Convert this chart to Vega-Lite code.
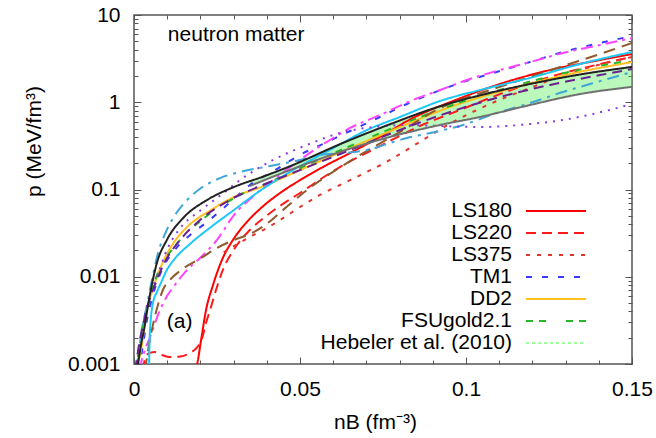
{
  "$schema": "https://vega.github.io/schema/vega-lite/v6.json",
  "width": 498,
  "height": 349,
  "autosize": {"type": "none"},
  "padding": {"left": 134, "top": 15, "right": 24, "bottom": 74},
  "background": "white",
  "config": {
    "font": "Liberation Sans",
    "view": {"stroke": "#555555", "strokeWidth": 1.5},
    "axis": {"grid": false, "domain": false, "tickColor": "#555555", "tickWidth": 1, "labelColor": "#000000", "titleColor": "#000000", "labelFont": "Liberation Sans", "titleFont": "Liberation Sans", "labelFontSize": 21, "titleFontSize": 21, "titleFontWeight": "normal", "labelOverlap": false, "labelFlush": false}
  },
  "datasets": {
    "curves": [
      {"s":"LS180","x":0.0187,"p":0.00092},{"s":"LS180","x":0.019,"p":0.001},{"s":"LS180","x":0.0202,"p":0.00188},{"s":"LS180","x":0.0217,"p":0.00416},{"s":"LS180","x":0.0238,"p":0.00804},{"s":"LS180","x":0.0265,"p":0.0156},{"s":"LS180","x":0.0298,"p":0.0264},{"s":"LS180","x":0.034,"p":0.0424},{"s":"LS180","x":0.0386,"p":0.063},{"s":"LS180","x":0.044,"p":0.0912},{"s":"LS180","x":0.05,"p":0.128},{"s":"LS180","x":0.0575,"p":0.186},{"s":"LS180","x":0.0651,"p":0.262},{"s":"LS180","x":0.0741,"p":0.4},{"s":"LS180","x":0.084,"p":0.66},{"s":"LS180","x":0.0961,"p":1.034},{"s":"LS180","x":0.1102,"p":1.62},{"s":"LS180","x":0.1253,"p":2.34},{"s":"LS180","x":0.1404,"p":3.05},{"s":"LS180","x":0.15,"p":3.57},

      {"s":"LS220","x":0.0027,"p":0.00085},{"s":"LS220","x":0.0036,"p":0.00124},{"s":"LS220","x":0.0048,"p":0.00134},{"s":"LS220","x":0.0063,"p":0.00137},{"s":"LS220","x":0.0084,"p":0.00127},{"s":"LS220","x":0.0108,"p":0.0012},{"s":"LS220","x":0.0139,"p":0.00122},{"s":"LS220","x":0.0169,"p":0.00134},{"s":"LS220","x":0.019,"p":0.00155},{"s":"LS220","x":0.0205,"p":0.00196},{"s":"LS220","x":0.0217,"p":0.00295},{"s":"LS220","x":0.0232,"p":0.0045},{"s":"LS220","x":0.0247,"p":0.00705},{"s":"LS220","x":0.0265,"p":0.0113},{"s":"LS220","x":0.0304,"p":0.0214},{"s":"LS220","x":0.0349,"p":0.0343},{"s":"LS220","x":0.041,"p":0.0538},{"s":"LS220","x":0.05,"p":0.0912},{"s":"LS220","x":0.062,"p":0.181},{"s":"LS220","x":0.0741,"p":0.315},{"s":"LS220","x":0.0861,"p":0.534},{"s":"LS220","x":0.0982,"p":0.815},{"s":"LS220","x":0.1102,"p":1.24},{"s":"LS220","x":0.1253,"p":1.95},{"s":"LS220","x":0.1404,"p":2.74},{"s":"LS220","x":0.15,"p":3.3},

      {"s":"LS375","x":0.027,"p":0.019},{"s":"LS375","x":0.031,"p":0.0235},{"s":"LS375","x":0.0355,"p":0.0295},{"s":"LS375","x":0.04,"p":0.0362},{"s":"LS375","x":0.044,"p":0.0447},{"s":"LS375","x":0.05,"p":0.063},{"s":"LS375","x":0.056,"p":0.0865},{"s":"LS375","x":0.0651,"p":0.128},{"s":"LS375","x":0.0771,"p":0.218},{"s":"LS375","x":0.087,"p":0.369},{"s":"LS375","x":0.0961,"p":0.594},{"s":"LS375","x":0.1072,"p":0.955},{"s":"LS375","x":0.1193,"p":1.46},{"s":"LS375","x":0.1313,"p":2.16},{"s":"LS375","x":0.1434,"p":2.89},{"s":"LS375","x":0.15,"p":3.3},

      {"s":"TM1","x":0.0015,"p":0.00085},{"s":"TM1","x":0.0018,"p":0.001},{"s":"TM1","x":0.0027,"p":0.00165},{"s":"TM1","x":0.0039,"p":0.00319},{"s":"TM1","x":0.0057,"p":0.00618},{"s":"TM1","x":0.0084,"p":0.01196},{"s":"TM1","x":0.0123,"p":0.0203},{"s":"TM1","x":0.0169,"p":0.0301},{"s":"TM1","x":0.022,"p":0.0424},{"s":"TM1","x":0.028,"p":0.0664},{"s":"TM1","x":0.0349,"p":0.1126},{"s":"TM1","x":0.0425,"p":0.167},{"s":"TM1","x":0.05,"p":0.249},{"s":"TM1","x":0.0575,"p":0.341},{"s":"TM1","x":0.0651,"p":0.468},{"s":"TM1","x":0.0741,"p":0.678},{"s":"TM1","x":0.0822,"p":0.955},{"s":"TM1","x":0.0892,"p":1.24},{"s":"TM1","x":0.0982,"p":1.66},{"s":"TM1","x":0.1102,"p":2.28},{"s":"TM1","x":0.1193,"p":2.89},{"s":"TM1","x":0.1292,"p":3.77},{"s":"TM1","x":0.1404,"p":4.78},{"s":"TM1","x":0.15,"p":5.74},

      {"s":"DD2","x":0.0009,"p":0.00085},{"s":"DD2","x":0.0012,"p":0.001},{"s":"DD2","x":0.0021,"p":0.00145},{"s":"DD2","x":0.003,"p":0.00245},{"s":"DD2","x":0.0039,"p":0.00416},{"s":"DD2","x":0.0054,"p":0.00669},{"s":"DD2","x":0.0069,"p":0.00994},{"s":"DD2","x":0.009,"p":0.0156},{"s":"DD2","x":0.0111,"p":0.0219},{"s":"DD2","x":0.016,"p":0.0372},{"s":"DD2","x":0.0232,"p":0.0582},{"s":"DD2","x":0.0301,"p":0.082},{"s":"DD2","x":0.0383,"p":0.1068},{"s":"DD2","x":0.05,"p":0.167},{"s":"DD2","x":0.0651,"p":0.299},{"s":"DD2","x":0.0801,"p":0.52},{"s":"DD2","x":0.0952,"p":0.882},{"s":"DD2","x":0.1142,"p":1.46},{"s":"DD2","x":0.1313,"p":2.11},{"s":"DD2","x":0.15,"p":2.89},

      {"s":"FSUgold2.1","x":0.0006,"p":0.00085},{"s":"FSUgold2.1","x":0.0009,"p":0.001},{"s":"FSUgold2.1","x":0.0018,"p":0.00188},{"s":"FSUgold2.1","x":0.0033,"p":0.00364},{"s":"FSUgold2.1","x":0.0054,"p":0.00705},{"s":"FSUgold2.1","x":0.0078,"p":0.0126},{"s":"FSUgold2.1","x":0.0114,"p":0.0203},{"s":"FSUgold2.1","x":0.0169,"p":0.0343},{"s":"FSUgold2.1","x":0.0244,"p":0.0582},{"s":"FSUgold2.1","x":0.0331,"p":0.0912},{"s":"FSUgold2.1","x":0.041,"p":0.122},{"s":"FSUgold2.1","x":0.05,"p":0.176},{"s":"FSUgold2.1","x":0.0651,"p":0.315},{"s":"FSUgold2.1","x":0.0801,"p":0.549},{"s":"FSUgold2.1","x":0.0952,"p":0.906},{"s":"FSUgold2.1","x":0.1102,"p":1.38},{"s":"FSUgold2.1","x":0.1283,"p":2.11},{"s":"FSUgold2.1","x":0.15,"p":3.05},

      {"s":"EOS-a","x":0.0018,"p":0.00085},{"s":"EOS-a","x":0.0021,"p":0.001},{"s":"EOS-a","x":0.0033,"p":0.00145},{"s":"EOS-a","x":0.0051,"p":0.00215},{"s":"EOS-a","x":0.0072,"p":0.00364},{"s":"EOS-a","x":0.0096,"p":0.00571},{"s":"EOS-a","x":0.0123,"p":0.00804},{"s":"EOS-a","x":0.0154,"p":0.0113},{"s":"EOS-a","x":0.0199,"p":0.0164},{"s":"EOS-a","x":0.025,"p":0.0264},{"s":"EOS-a","x":0.0301,"p":0.051},{"s":"EOS-a","x":0.0364,"p":0.0865},{"s":"EOS-a","x":0.044,"p":0.147},{"s":"EOS-a","x":0.0521,"p":0.249},{"s":"EOS-a","x":0.059,"p":0.369},{"s":"EOS-a","x":0.0651,"p":0.507},{"s":"EOS-a","x":0.0741,"p":0.714},{"s":"EOS-a","x":0.084,"p":1.061},{"s":"EOS-a","x":0.0922,"p":1.38},{"s":"EOS-a","x":0.1003,"p":1.8},{"s":"EOS-a","x":0.1102,"p":2.34},{"s":"EOS-a","x":0.1193,"p":2.89},{"s":"EOS-a","x":0.1292,"p":3.67},{"s":"EOS-a","x":0.1404,"p":4.53},{"s":"EOS-a","x":0.15,"p":5.45},

      {"s":"EOS-b","x":0.0033,"p":0.00085},{"s":"EOS-b","x":0.0036,"p":0.001},{"s":"EOS-b","x":0.0045,"p":0.00165},{"s":"EOS-b","x":0.0057,"p":0.0028},{"s":"EOS-b","x":0.0072,"p":0.00475},{"s":"EOS-b","x":0.0087,"p":0.00705},{"s":"EOS-b","x":0.0108,"p":0.00918},{"s":"EOS-b","x":0.0142,"p":0.01196},{"s":"EOS-b","x":0.0202,"p":0.0164},{"s":"EOS-b","x":0.025,"p":0.0214},{"s":"EOS-b","x":0.0301,"p":0.0264},{"s":"EOS-b","x":0.0349,"p":0.0309},{"s":"EOS-b","x":0.0395,"p":0.0392},{"s":"EOS-b","x":0.0449,"p":0.0582},{"s":"EOS-b","x":0.0521,"p":0.0987},{"s":"EOS-b","x":0.0599,"p":0.159},{"s":"EOS-b","x":0.0681,"p":0.249},{"s":"EOS-b","x":0.0801,"p":0.456},{"s":"EOS-b","x":0.0922,"p":0.859},{"s":"EOS-b","x":0.1072,"p":1.38},{"s":"EOS-b","x":0.1193,"p":1.95},{"s":"EOS-b","x":0.1292,"p":2.6},{"s":"EOS-b","x":0.1404,"p":3.57},{"s":"EOS-b","x":0.15,"p":4.78},

      {"s":"EOS-c","x":0.0045,"p":0.00085},{"s":"EOS-c","x":0.00455,"p":0.001},{"s":"EOS-c","x":0.0047,"p":0.00188},{"s":"EOS-c","x":0.0051,"p":0.00337},{"s":"EOS-c","x":0.0057,"p":0.005},{"s":"EOS-c","x":0.0069,"p":0.00669},{"s":"EOS-c","x":0.0081,"p":0.00848},{"s":"EOS-c","x":0.0099,"p":0.01196},{"s":"EOS-c","x":0.012,"p":0.0156},{"s":"EOS-c","x":0.0172,"p":0.0244},{"s":"EOS-c","x":0.0232,"p":0.0372},{"s":"EOS-c","x":0.0301,"p":0.0582},{"s":"EOS-c","x":0.037,"p":0.0912},{"s":"EOS-c","x":0.047,"p":0.159},{"s":"EOS-c","x":0.059,"p":0.284},{"s":"EOS-c","x":0.0702,"p":0.481},{"s":"EOS-c","x":0.0801,"p":0.678},{"s":"EOS-c","x":0.0922,"p":1.034},{"s":"EOS-c","x":0.1042,"p":1.38},{"s":"EOS-c","x":0.1193,"p":1.9},{"s":"EOS-c","x":0.1343,"p":2.74},{"s":"EOS-c","x":0.15,"p":3.77},

      {"s":"EOS-d","x":0.0006,"p":0.00085},{"s":"EOS-d","x":0.0009,"p":0.001},{"s":"EOS-d","x":0.0015,"p":0.00145},{"s":"EOS-d","x":0.0024,"p":0.00245},{"s":"EOS-d","x":0.0039,"p":0.00475},{"s":"EOS-d","x":0.0054,"p":0.00918},{"s":"EOS-d","x":0.0075,"p":0.0203},{"s":"EOS-d","x":0.0096,"p":0.0326},{"s":"EOS-d","x":0.012,"p":0.0484},{"s":"EOS-d","x":0.016,"p":0.0758},{"s":"EOS-d","x":0.0202,"p":0.104},{"s":"EOS-d","x":0.0259,"p":0.135},{"s":"EOS-d","x":0.0319,"p":0.159},{"s":"EOS-d","x":0.041,"p":0.186},{"s":"EOS-d","x":0.05,"p":0.218},{"s":"EOS-d","x":0.056,"p":0.249},{"s":"EOS-d","x":0.0636,"p":0.262},{"s":"EOS-d","x":0.0702,"p":0.284},{"s":"EOS-d","x":0.0771,"p":0.341},{"s":"EOS-d","x":0.0822,"p":0.389},{"s":"EOS-d","x":0.0892,"p":0.444},{"s":"EOS-d","x":0.0991,"p":0.549},{"s":"EOS-d","x":0.1093,"p":0.753},{"s":"EOS-d","x":0.1193,"p":0.98},{"s":"EOS-d","x":0.1292,"p":1.31},{"s":"EOS-d","x":0.1395,"p":1.71},{"s":"EOS-d","x":0.15,"p":2.22},

      {"s":"EOS-e","x":0.0006,"p":0.00085},{"s":"EOS-e","x":0.0009,"p":0.001},{"s":"EOS-e","x":0.0018,"p":0.00165},{"s":"EOS-e","x":0.0027,"p":0.00245},{"s":"EOS-e","x":0.0039,"p":0.0045},{"s":"EOS-e","x":0.0054,"p":0.00705},{"s":"EOS-e","x":0.0069,"p":0.00994},{"s":"EOS-e","x":0.0099,"p":0.0203},{"s":"EOS-e","x":0.0142,"p":0.0372},{"s":"EOS-e","x":0.0202,"p":0.0582},{"s":"EOS-e","x":0.0262,"p":0.0865},{"s":"EOS-e","x":0.0319,"p":0.128},{"s":"EOS-e","x":0.0419,"p":0.218},{"s":"EOS-e","x":0.0521,"p":0.324},{"s":"EOS-e","x":0.062,"p":0.444},{"s":"EOS-e","x":0.072,"p":0.52},{"s":"EOS-e","x":0.0822,"p":0.549},{"s":"EOS-e","x":0.0922,"p":0.534},{"s":"EOS-e","x":0.1042,"p":0.52},{"s":"EOS-e","x":0.1193,"p":0.563},{"s":"EOS-e","x":0.1292,"p":0.626},{"s":"EOS-e","x":0.1395,"p":0.753},{"s":"EOS-e","x":0.15,"p":0.955},

      {"s":"EOS-f","x":0.0003,"p":0.00085},{"s":"EOS-f","x":0.0006,"p":0.001},{"s":"EOS-f","x":0.0015,"p":0.00165},{"s":"EOS-f","x":0.0027,"p":0.0028},{"s":"EOS-f","x":0.0042,"p":0.00475},{"s":"EOS-f","x":0.0063,"p":0.00804},{"s":"EOS-f","x":0.0093,"p":0.0148},{"s":"EOS-f","x":0.0139,"p":0.0264},{"s":"EOS-f","x":0.0199,"p":0.0447},{"s":"EOS-f","x":0.0289,"p":0.0758},{"s":"EOS-f","x":0.041,"p":0.122},{"s":"EOS-f","x":0.05,"p":0.167},{"s":"EOS-f","x":0.0651,"p":0.284},{"s":"EOS-f","x":0.0801,"p":0.481},{"s":"EOS-f","x":0.0952,"p":0.773},{"s":"EOS-f","x":0.1102,"p":1.149},{"s":"EOS-f","x":0.1253,"p":1.58},{"s":"EOS-f","x":0.1404,"p":2.05},{"s":"EOS-f","x":0.15,"p":2.4},

      {"s":"EOS-g","x":0.0009,"p":0.00085},{"s":"EOS-g","x":0.0012,"p":0.001},{"s":"EOS-g","x":0.0021,"p":0.00165},{"s":"EOS-g","x":0.003,"p":0.00245},{"s":"EOS-g","x":0.0045,"p":0.00542},{"s":"EOS-g","x":0.0069,"p":0.0144},{"s":"EOS-g","x":0.0099,"p":0.0264},{"s":"EOS-g","x":0.0151,"p":0.0484},{"s":"EOS-g","x":0.022,"p":0.0758},{"s":"EOS-g","x":0.0301,"p":0.1068},{"s":"EOS-g","x":0.0392,"p":0.142},{"s":"EOS-g","x":0.047,"p":0.185},{"s":"EOS-g","x":0.062,"p":0.33},{"s":"EOS-g","x":0.0771,"p":0.56},{"s":"EOS-g","x":0.0922,"p":0.9},{"s":"EOS-g","x":0.1042,"p":1.2},{"s":"EOS-g","x":0.1193,"p":1.62},{"s":"EOS-g","x":0.1343,"p":2.08},{"s":"EOS-g","x":0.15,"p":2.54},

      {"s":"EOS-h","x":0.0349,"p":0.1097},{"s":"EOS-h","x":0.047,"p":0.167},{"s":"EOS-h","x":0.062,"p":0.269},{"s":"EOS-h","x":0.0771,"p":0.4},{"s":"EOS-h","x":0.0922,"p":0.549},{"s":"EOS-h","x":0.1042,"p":0.678},{"s":"EOS-h","x":0.1193,"p":0.93},{"s":"EOS-h","x":0.1343,"p":1.24},{"s":"EOS-h","x":0.15,"p":1.5}
    ],
    "band": [
      {"x":0.0349,"lo":0.1097,"hi":0.1252},{"x":0.0392,"lo":0.128,"hi":0.142},{"x":0.047,"lo":0.167,"hi":0.185},{"x":0.062,"lo":0.269,"hi":0.33},{"x":0.0771,"lo":0.4,"hi":0.56},{"x":0.0922,"lo":0.549,"hi":0.9},{"x":0.1042,"lo":0.678,"hi":1.2},{"x":0.1193,"lo":0.93,"hi":1.62},{"x":0.1343,"lo":1.24,"hi":2.08},{"x":0.15,"lo":1.5,"hi":2.54}
    ],
    "notes": [
      {"t":"neutron matter","x":0.0102,"p":5.9},
      {"t":"(a)","x":0.0099,"p":0.00303}
    ]
  },
  "layer": [
    {
      "data": {"name": "band"},
      "mark": {"type": "area", "color": "#55ee55", "opacity": 0.4, "clip": true, "interpolate": "monotone"},
      "encoding": {
        "x": {"field": "x", "type": "quantitative", "scale": {"domain": [0, 0.15], "nice": false, "zero": false},
              "axis": {"orient": "top", "labels": false, "title": null, "values": [0,0.01,0.02,0.03,0.04,0.05,0.06,0.07,0.08,0.09,0.1,0.11,0.12,0.13,0.14,0.15],
                       "tickSize": {"condition": {"test": "abs(datum.value*20 - round(datum.value*20)) < 1e-6", "value": -7}, "value": -4}}},
        "y": {"field": "lo", "type": "quantitative", "scale": {"type": "log", "domain": [0.001, 10], "nice": false},
              "axis": {"orient": "right", "labels": false, "title": null, "values": [0.001,0.002,0.003,0.004,0.005,0.006,0.007,0.008,0.009,0.01,0.02,0.03,0.04,0.05,0.06,0.07,0.08,0.09,0.1,0.2,0.3,0.4,0.5,0.6,0.7,0.8,0.9,1,2,3,4,5,6,7,8,9,10],
                       "tickSize": {"condition": {"test": "abs(log(datum.value)/LN10 - round(log(datum.value)/LN10)) < 1e-6", "value": -7}, "value": -4}}},
        "y2": {"field": "hi"}
      }
    },
    {
      "data": {"name": "curves"},
      "mark": {"type": "line", "clip": true, "interpolate": "monotone"},
      "encoding": {
        "x": {"field": "x", "type": "quantitative", "scale": {"domain": [0, 0.15], "nice": false, "zero": false},
              "axis": {"orient": "bottom", "title": "nB (fm⁻³)", "titleX": 241, "titleY": 58, "titleAlign": "center", "titleBaseline": "middle",
                       "values": [0,0.01,0.02,0.03,0.04,0.05,0.06,0.07,0.08,0.09,0.1,0.11,0.12,0.13,0.14,0.15], "format": "~g",
                       "labelExpr": "abs(datum.value*20 - round(datum.value*20)) < 1e-6 ? datum.label : ''",
                       "labelPadding": 21,
                       "tickSize": {"condition": {"test": "abs(datum.value*20 - round(datum.value*20)) < 1e-6", "value": -7}, "value": -4}}},
        "y": {"field": "p", "type": "quantitative", "scale": {"type": "log", "domain": [0.001, 10], "nice": false},
              "axis": {"orient": "left", "title": "p (MeV/fm³)", "titleX": -100, "titleY": 126, "titleAngle": -90, "titleAlign": "center", "titleBaseline": "middle",
                       "values": [0.001,0.002,0.003,0.004,0.005,0.006,0.007,0.008,0.009,0.01,0.02,0.03,0.04,0.05,0.06,0.07,0.08,0.09,0.1,0.2,0.3,0.4,0.5,0.6,0.7,0.8,0.9,1,2,3,4,5,6,7,8,9,10], "format": "~g",
                       "labelExpr": "abs(log(datum.value)/LN10 - round(log(datum.value)/LN10)) < 1e-6 ? datum.label : ''",
                       "labelPadding": 21,
                       "tickSize": {"condition": {"test": "abs(log(datum.value)/LN10 - round(log(datum.value)/LN10)) < 1e-6", "value": -7}, "value": -4}}},
        "color": {"field": "s", "type": "nominal",
                  "scale": {"domain": ["LS180","LS220","LS375","TM1","DD2","FSUgold2.1","Hebeler et al. (2010)","EOS-a","EOS-b","EOS-c","EOS-d","EOS-e","EOS-f","EOS-g","EOS-h"],
                            "range": ["#ff0000","#ff1a1a","#e3342c","#3a3aff","#ffc020","#26b826","#9cff9c","#ff44ff","#8f5a2e","#1ec8f5","#3ea6d8","#8a3be0","#6a2090","#222222","#707070"]},
                  "legend": {"values": ["LS180","LS220","LS375","TM1","DD2","FSUgold2.1","Hebeler et al. (2010)"], "title": null, "orient": "none", "legendX": 411, "legendY": 185,
                             "symbolType": "M-3,0H3", "symbolSize": 400, "symbolStrokeWidth": 2, "labelFontSize": 21, "labelFont": "Liberation Sans", "labelColor": "#000000",
                             "labelAlign": "right", "labelOffset": -55, "labelLimit": 400, "rowPadding": 1, "padding": 0}},
        "strokeDash": {"field": "s", "type": "nominal",
                  "scale": {"domain": ["LS180","LS220","LS375","TM1","DD2","FSUgold2.1","Hebeler et al. (2010)","EOS-a","EOS-b","EOS-c","EOS-d","EOS-e","EOS-f","EOS-g","EOS-h"],
                            "range": [[1,0],[10,6],[4,7],[6,10],[1,0],[7,6,7,20],[3,3],[12,5,3,5],[12,7],[1,0],[12,6,3,6],[2,6],[10,6],[1,0],[1,0]]},
                  "legend": {"values": ["LS180","LS220","LS375","TM1","DD2","FSUgold2.1","Hebeler et al. (2010)"], "title": null, "orient": "none", "legendX": 411, "legendY": 185,
                             "symbolType": "M-3,0H3", "symbolSize": 400, "symbolStrokeWidth": 2, "labelFontSize": 21, "labelFont": "Liberation Sans", "labelColor": "#000000",
                             "labelAlign": "right", "labelOffset": -55, "labelLimit": 400, "rowPadding": 1, "padding": 0}},
        "strokeWidth": {"field": "s", "type": "nominal", "legend": null,
                  "scale": {"domain": ["LS180","LS220","LS375","TM1","DD2","FSUgold2.1","Hebeler et al. (2010)","EOS-a","EOS-b","EOS-c","EOS-d","EOS-e","EOS-f","EOS-g","EOS-h"],
                            "range": [2,2,2,2,2,2,2,2,2,2,2,2.2,2,1.4,1.4]}}
      }
    },
    {
      "data": {"name": "notes"},
      "mark": {"type": "text", "align": "left", "baseline": "middle", "fontSize": 21, "font": "Liberation Sans", "color": "#000000"},
      "encoding": {
        "x": {"field": "x", "type": "quantitative", "scale": {"domain": [0, 0.15], "nice": false, "zero": false}, "axis": null},
        "y": {"field": "p", "type": "quantitative", "scale": {"type": "log", "domain": [0.001, 10], "nice": false}, "axis": null},
        "text": {"field": "t"}
      }
    }
  ],
  "resolve": {"axis": {"x": "independent", "y": "independent"}}
}
